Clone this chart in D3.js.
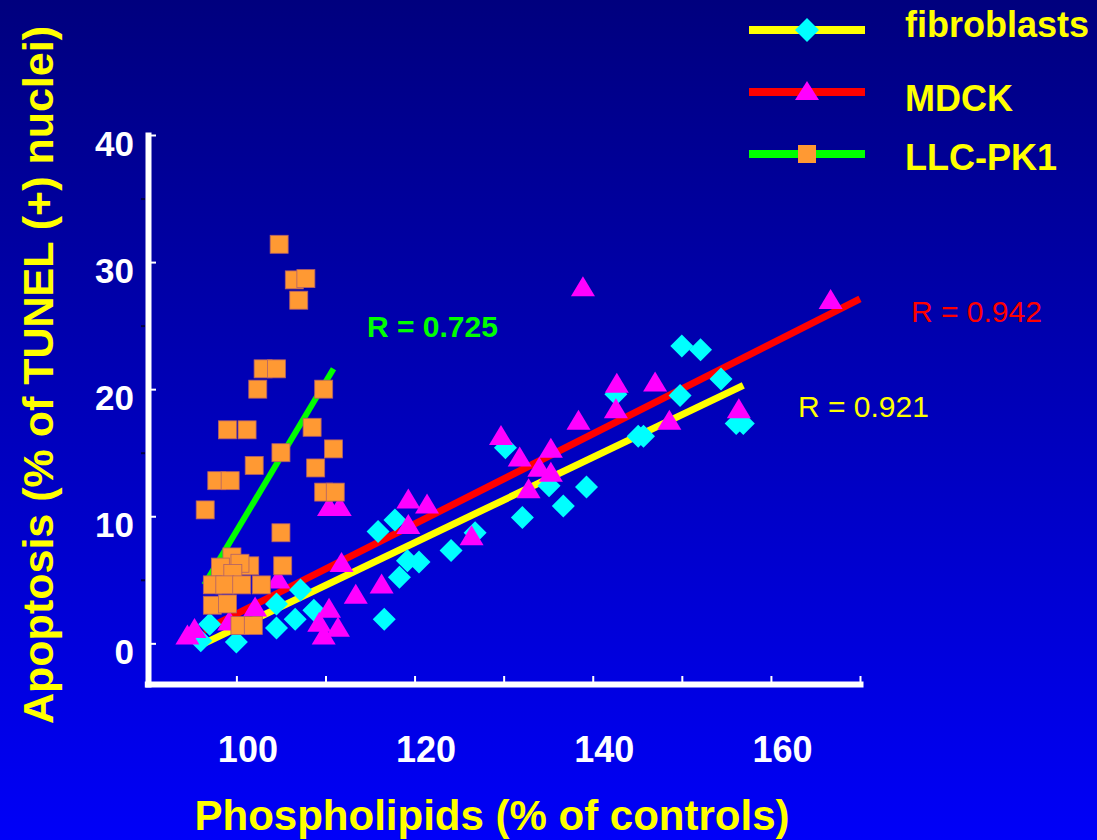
<!DOCTYPE html>
<html>
<head>
<meta charset="utf-8">
<script src="https://cdn.jsdelivr.net/npm/d3@7"></script>
<style>
  html, body { margin: 0; padding: 0; background: #0000c0; }
  svg { display: block; }
</style>
</head>
<body>
<div id="chart"></div>
<script>
var width = 1097;
var height = 840;
var font = "Arial, 'Liberation Sans', Helvetica, sans-serif";

var seriesNames = ["fibroblasts", "MDCK", "LLC-PK1"];
var rLabels = ["R = 0.921", "R = 0.942", "R = 0.725"];
var xTickValues = [100, 110, 120, 130, 140, 150, 160, 170];
var yTickValues = [0, 5, 10, 15, 20, 25, 30, 35, 40];

// [phospholipids %, apoptosis %]
var fibroblasts = [
  [150.0, 23.4], [152.1, 23.1], [154.4, 20.8], [149.8, 19.5], [142.6, 19.6],
  [145.1, 16.3], [145.7, 16.3], [156.1, 17.3], [156.9, 17.3], [139.3, 12.3],
  [136.7, 10.8], [132.1, 9.9], [135.1, 12.4], [130.2, 15.4], [126.8, 8.7],
  [124.1, 7.3], [120.5, 6.4], [119.2, 6.5], [118.3, 5.2], [115.9, 8.8],
  [117.8, 9.7], [116.6, 1.9], [108.7, 2.6], [106.6, 1.9], [107.2, 4.2],
  [104.5, 3.1], [104.5, 1.2], [100.0, 0.1], [96.0, 0.2], [97.0, 1.5]
];
var mdck = [
  [166.7, 27.1], [138.9, 28.1], [142.7, 20.5], [147.0, 20.6], [142.6, 18.5],
  [138.4, 17.6], [148.6, 17.6], [156.4, 18.5], [129.7, 16.4], [131.8, 14.7],
  [135.3, 15.4], [134.0, 13.9], [135.3, 13.5], [132.8, 12.2], [119.3, 11.4],
  [121.4, 11.0], [119.3, 9.4], [126.4, 8.5], [110.4, 10.8], [111.6, 10.8],
  [111.8, 6.4], [104.7, 5.1], [113.4, 3.9], [116.3, 4.7], [110.4, 2.8],
  [109.3, 1.7], [111.4, 1.3], [109.8, 0.7], [102.1, 2.9], [99.2, 1.8],
  [95.3, 1.2], [94.5, 0.7]
];
var llcpk1 = [
  [104.8, 31.4], [106.5, 28.6], [107.8, 28.7], [107.0, 27.0], [103.0, 21.6],
  [104.5, 21.6], [102.4, 20.0], [109.8, 20.0], [99.0, 16.8], [101.2, 16.8],
  [108.5, 17.0], [105.0, 15.0], [110.9, 15.3], [102.0, 14.0], [108.9, 13.8],
  [97.8, 12.8], [99.3, 12.8], [109.8, 11.9], [111.1, 11.9], [96.5, 10.5],
  [105.0, 8.7], [105.2, 6.1], [99.5, 6.8], [98.2, 6.0], [101.5, 6.1],
  [100.4, 6.3], [99.6, 5.5], [97.3, 4.6], [98.7, 4.6], [100.6, 4.6],
  [102.8, 4.6], [97.3, 3.0], [99.0, 3.1], [100.4, 1.4], [101.9, 1.4]
];

// regression line end points
var fibroFit = [[96.1, -0.1], [156.9, 20.3]];
var mdckFit = [[96.3, 1.0], [170.0, 27.1]];
var llcFit = [[96.4, 4.6], [110.9, 21.6]];

var svg = d3.select("#chart").append("svg")
  .attr("width", width)
  .attr("height", height);

var grad = svg.append("defs").append("linearGradient")
  .attr("id", "bg")
  .attr("x1", 0).attr("y1", 0).attr("x2", 0).attr("y2", 1);
grad.append("stop").attr("offset", "0%").attr("stop-color", "#00007e");
grad.append("stop").attr("offset", "100%").attr("stop-color", "#0000f8");

svg.append("rect")
  .attr("width", width)
  .attr("height", height)
  .attr("fill", "url(#bg)");

var x = d3.scaleLinear().domain([90, 170]).range([147.3, 860]);
var y = d3.scaleLinear().domain([-3.2, 40]).range([684, 135]);

// trend lines
var line = d3.line()
  .x(function(d) { return x(d[0]); })
  .y(function(d) { return y(d[1]); });

var fits = [
  { pts: fibroFit, color: "#ffff00", w: 7 },
  { pts: mdckFit, color: "#ff0000", w: 7 },
  { pts: llcFit, color: "#00ff00", w: 6 }
];
svg.selectAll("path.fit")
  .data(fits)
  .enter().append("path")
  .attr("class", "fit")
  .attr("d", function(d) { return line(d.pts); })
  .attr("stroke", function(d) { return d.color; })
  .attr("stroke-width", function(d) { return d.w; })
  .attr("fill", "none");

// markers
function diamond(r) { return "M0," + (-r) + "L" + r + ",0L0," + r + "L" + (-r) + ",0Z"; }
function triangle(w, h) { return "M0," + (-h / 2) + "L" + (w / 2) + "," + (h / 2) + "L" + (-w / 2) + "," + (h / 2) + "Z"; }

svg.append("g").selectAll("path")
  .data(fibroblasts)
  .enter().append("path")
  .attr("d", diamond(11.5))
  .attr("transform", function(d) { return "translate(" + x(d[0]) + "," + y(d[1]) + ")"; })
  .attr("fill", "#00ffff");

svg.append("g").selectAll("path")
  .data(mdck)
  .enter().append("path")
  .attr("d", triangle(24, 20))
  .attr("transform", function(d) { return "translate(" + x(d[0]) + "," + y(d[1]) + ")"; })
  .attr("fill", "#ff00ff");

svg.append("g").selectAll("rect")
  .data(llcpk1)
  .enter().append("rect")
  .attr("x", function(d) { return x(d[0]) - 9; })
  .attr("y", function(d) { return y(d[1]) - 9; })
  .attr("width", 18)
  .attr("height", 18)
  .attr("fill", "#ff9933")
  .attr("stroke", "#b0606a")
  .attr("stroke-width", 0.8);

// axes
var yAxis = svg.append("g")
  .attr("transform", "translate(148,0)")
  .call(d3.axisLeft(y)
    .tickValues(yTickValues)
    .tickSizeInner(-7)
    .tickSizeOuter(0)
    .tickPadding(14)
    .tickFormat(function(d) { return d % 10 === 0 ? d : ""; }));
yAxis.select(".domain")
  .attr("stroke", "#ffffff")
  .attr("stroke-width", 6)
  .attr("stroke-linecap", "square");
yAxis.selectAll(".tick line")
  .attr("stroke", function(d) { return d % 10 === 0 ? "#ffffff" : "#000040"; })
  .attr("stroke-width", 2)
  .attr("x1", function(d) { return d % 10 === 0 ? 0 : -3; })
  .attr("x2", function(d) { return d % 10 === 0 ? 8 : -7; });
yAxis.selectAll(".tick text")
  .attr("fill", "#ffffff")
  .attr("font-family", font)
  .attr("font-weight", "bold")
  .attr("font-size", 35)
  .attr("x", -14)
  .attr("dy", 20);

var xAxis = svg.append("g")
  .attr("transform", "translate(0,684)")
  .call(d3.axisBottom(x)
    .tickValues(xTickValues)
    .tickSizeInner(-7)
    .tickSizeOuter(0)
    .tickFormat(function(d) { return d % 20 === 0 ? d : ""; }));
xAxis.select(".domain")
  .attr("stroke", "#ffffff")
  .attr("stroke-width", 6)
  .attr("stroke-linecap", "square");
xAxis.selectAll(".tick line")
  .attr("stroke", "#ffffff")
  .attr("stroke-width", 2)
  .attr("y2", -8);
xAxis.selectAll(".tick text")
  .attr("fill", "#ffffff")
  .attr("font-family", font)
  .attr("font-weight", "bold")
  .attr("font-size", 36)
  .attr("y", 78)
  .attr("dy", 0)
  .attr("dx", 11);

// axis titles
svg.append("text")
  .attr("transform", "translate(53,375) rotate(-90)")
  .attr("text-anchor", "middle")
  .attr("font-family", font)
  .attr("font-weight", "bold")
  .attr("font-size", 43)
  .attr("fill", "#ffff00")
  .text("Apoptosis (% of TUNEL (+) nuclei)");

svg.append("text")
  .attr("x", 492)
  .attr("y", 830)
  .attr("text-anchor", "middle")
  .attr("font-family", font)
  .attr("font-weight", "bold")
  .attr("font-size", 42)
  .attr("fill", "#ffff00")
  .text("Phospholipids (% of controls)");

// R values
var rPos = [
  { x: 798, y: 417, color: "#ffff00", weight: "normal" },
  { x: 911, y: 322, color: "#ff0000", weight: "normal" },
  { x: 367, y: 337, color: "#00ff00", weight: "bold" }
];
svg.selectAll("text.rval")
  .data(rLabels)
  .enter().append("text")
  .attr("class", "rval")
  .attr("x", function(d, i) { return rPos[i].x; })
  .attr("y", function(d, i) { return rPos[i].y; })
  .attr("fill", function(d, i) { return rPos[i].color; })
  .attr("font-weight", function(d, i) { return rPos[i].weight; })
  .attr("font-family", font)
  .attr("font-size", 30)
  .text(function(d) { return d; });

// legend
var legendY = [30, 92, 154];
var lineColors = ["#ffff00", "#ff0000", "#00ff00"];
var legend = svg.append("g");
var items = legend.selectAll("g")
  .data(seriesNames)
  .enter().append("g")
  .attr("transform", function(d, i) { return "translate(0," + legendY[i] + ")"; });
items.append("line")
  .attr("x1", 749).attr("x2", 865)
  .attr("y1", 0).attr("y2", 0)
  .attr("stroke", function(d, i) { return lineColors[i]; })
  .attr("stroke-width", 8);
items.append("text")
  .attr("x", 905)
  .attr("y", function(d, i) { return [7, 19, 16][i]; })
  .attr("fill", "#ffff00")
  .attr("font-family", font)
  .attr("font-weight", "bold")
  .attr("font-size", 36)
  .text(function(d) { return d; });
items.filter(function(d, i) { return i === 0; }).append("path")
  .attr("d", diamond(12))
  .attr("transform", "translate(807,0)")
  .attr("fill", "#00ffff");
items.filter(function(d, i) { return i === 1; }).append("path")
  .attr("d", triangle(24, 19))
  .attr("transform", "translate(807,-1.5)")
  .attr("fill", "#ff00ff");
items.filter(function(d, i) { return i === 2; }).append("rect")
  .attr("x", 798).attr("y", -9)
  .attr("width", 18).attr("height", 18)
  .attr("fill", "#ff9933");
</script>
</body>
</html>
